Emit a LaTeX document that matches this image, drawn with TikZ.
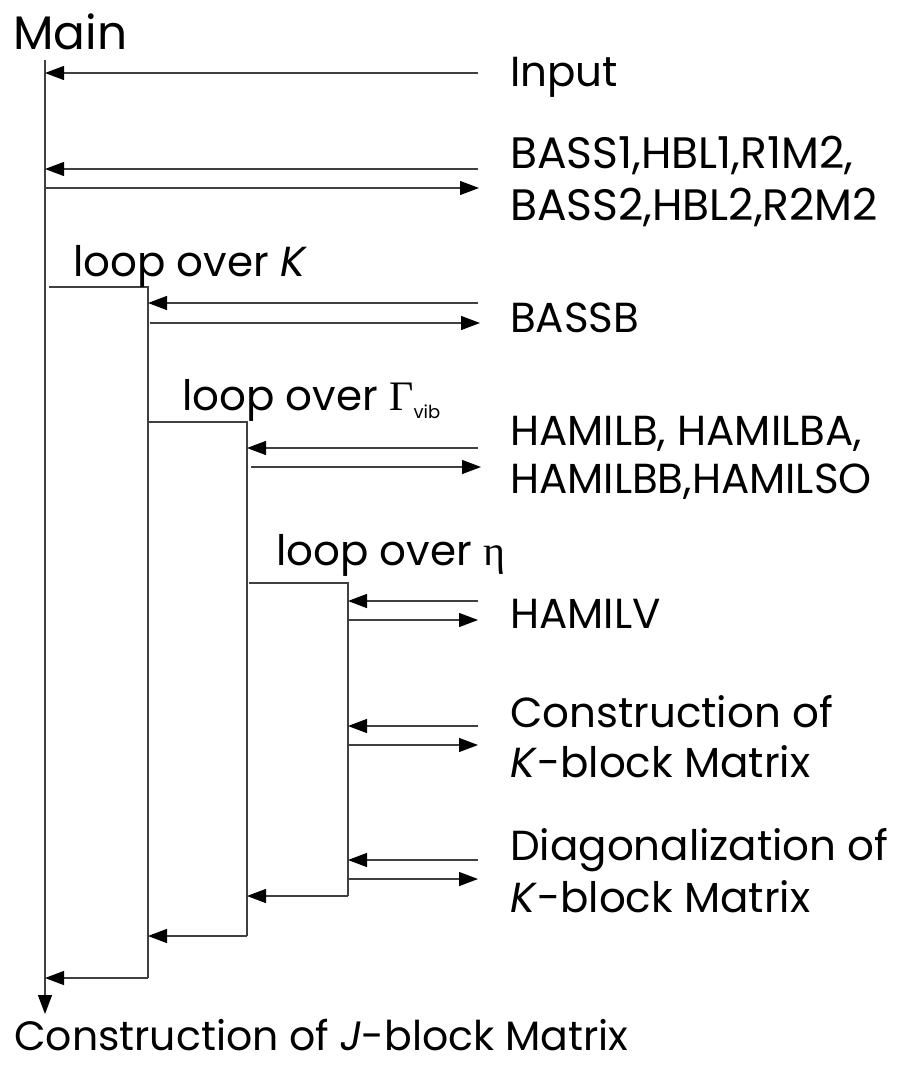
\documentclass[tikz,border=0pt]{standalone}
\usepackage{fontspec}
\setmainfont{Poppins}
\newfontfamily\grk{Liberation Serif}
\usetikzlibrary{arrows.meta}
\begin{document}
\begin{tikzpicture}[x=1pt,y=-1pt,
  ln/.style={line width=1.2pt, draw=black!75},
  arr/.style={ln, -{Triangle[length=19pt,width=14pt,color=black,fill=black]}},
  lbl/.style={anchor=base west, inner sep=0pt, font=\fontsize{42}{48}\selectfont},
  blbl/.style={anchor=base west, inner sep=0pt, font=\fontsize{44}{52}\selectfont},
  btm/.style={anchor=base west, inner sep=0pt, font=\fontsize{41}{48}\selectfont},
  ttl/.style={anchor=base west, inner sep=0pt, font=\fontsize{47}{54}\selectfont}]
\useasboundingbox (0,0) rectangle (897,1065);

% titles
\node[ttl] (main) at (13,50) {Main};
\node[btm] (jblk) at (14,1050) {Construction of \textit{J}-block Matrix};

% main line
\coordinate (mtop) at (45,60);
\coordinate (mbot) at (45,1014);
\draw[arr] (mtop) -- (mbot);

% loop boxes
\coordinate (k1) at (49,287);  \coordinate (k2) at (148,287);  \coordinate (k3) at (148,978);
\coordinate (g1) at (149,422); \coordinate (g2) at (247,422); \coordinate (g3) at (247,936);
\coordinate (e1) at (249,583); \coordinate (e2) at (348,583); \coordinate (e3) at (348,896);
\draw[ln] (k1) -- (k2) -- (k3);
\draw[arr] (k3) -- (k3 -| mtop);
\draw[ln] (g1) -- (g2) -- (g3);
\draw[arr] (g3) -- (g3 -| k2);
\draw[ln] (e1) -- (e2) -- (e3);
\draw[arr] (e3) -- (e3 -| g2);

\node[lbl] (lk) at (73,276) {loop over \textit{K}};
\node[lbl] (lg) at (182,410) {loop over {\grk Γ}\raisebox{-8pt}{\fontsize{18}{18}\selectfont vib}};
\node[lbl] (le) at (276,565) {loop over {\grk η}};

% right labels
\node[lbl] (inp) at (510,86) {Input};
\node[blbl] (bas1) at (510,168) {BASS1,HBL1,R1M2,};
\node[blbl] (bas2) at (510,220) {BASS2,HBL2,R2M2};
\node[lbl] (bassb) at (510,332) {BASSB};
\node[lbl] (ham1) at (510,445) {HAMILB, HAMILBA,};
\node[lbl] (ham2) at (510,493) {HAMILBB,HAMILSO};
\node[lbl] (hv) at (510,628) {HAMILV};
\node[lbl] (ck1) at (510,727) {Construction of};
\node[lbl] (ck2) at (510,777) {\textit{K}-block Matrix};
\node[lbl] (dk1) at (510,860) {Diagonalization of};
\node[lbl] (dk2) at (510,912) {\textit{K}-block Matrix};

% arrows
\coordinate (rin) at (478,73);
\draw[arr] (rin) -- (rin -| mtop);
\coordinate (rb1) at (478,169); \coordinate (rb2) at (479,188);
\draw[arr] (rb1) -- (rb1 -| mtop);
\draw[arr] (rb2 -| mtop) -- (rb2);
\coordinate (rs1) at (478,303); \coordinate (rs2) at (480,323);
\draw[arr] (rs1) -- (rs1 -| k2);
\draw[arr] ([xshift=2pt]rs2 -| k2) -- (rs2);
\coordinate (rh1) at (478,448); \coordinate (rh2) at (481,467);
\draw[arr] (rh1) -- (rh1 -| g2);
\draw[arr] ([xshift=4pt]rh2 -| g2) -- (rh2);
\coordinate (rv1) at (478,601); \coordinate (rv2) at (478,620);
\draw[arr] (rv1) -- (rv1 -| e2);
\draw[arr] (rv2 -| e2) -- (rv2);
\coordinate (rc1) at (478,726); \coordinate (rc2) at (478,745);
\draw[arr] (rc1) -- (rc1 -| e2);
\draw[arr] (rc2 -| e2) -- (rc2);
\coordinate (rd1) at (478,860); \coordinate (rd2) at (478,879);
\draw[arr] (rd1) -- (rd1 -| e2);
\draw[arr] (rd2 -| e2) -- (rd2);
\end{tikzpicture}
\end{document}
